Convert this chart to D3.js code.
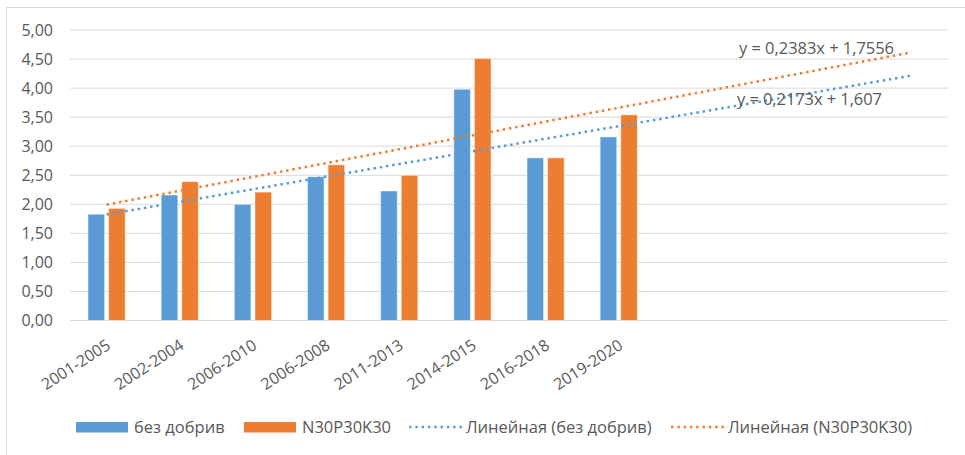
<!DOCTYPE html>
<html>
<head>
<meta charset="utf-8">
<script src="https://d3js.org/d3.v7.min.js"></script>
<style>
  body { margin: 0; background: white; }
  text { font-family: "Open Sans", sans-serif; fill: #595959; }
</style>
</head>
<body>
<div id="chart"></div>
<script>
  // categories (x axis) and the two series
  var periods = ["2001-2005", "2002-2004", "2006-2010", "2006-2008", "2011-2013", "2014-2015", "2016-2018", "2019-2020"];
  var noFert = [1.83, 2.16, 2.00, 2.475, 2.23, 3.98, 2.80, 3.16];
  var npk = [1.93, 2.39, 2.21, 2.68, 2.50, 4.51, 2.80, 3.54];
  var seriesNames = ["без добрив", "N30P30K30"];
  var trendNames = ["Линейная (без добрив)", "Линейная (N30P30K30)"];
  // trendline coefficients as shown on the chart
  var trendSlope = [0.2173, 0.2383];
  var trendIntercept = [1.607, 1.7556];
  var trendLabels = ["y = 0,2173x + 1,607", "y = 0,2383x + 1,7556"];
  var forecastPeriods = 4;
  var yTicks = [0, 0.5, 1, 1.5, 2, 2.5, 3, 3.5, 4, 4.5, 5];

  var colors = ["#5b9bd5", "#ed7d31"];

  var W = 965, H = 455;
  var svg = d3.select("#chart").append("svg")
    .attr("width", W).attr("height", H);

  // chart area border (only top/left visible)
  svg.append("rect")
    .attr("x", 6.5).attr("y", 7.5)
    .attr("width", W + 20).attr("height", H + 20)
    .attr("fill", "white")
    .attr("stroke", "#d9d9d9");

  var plot = {left: 70, right: 948, top: 30, bottom: 320.5};

  // slots for the data + forecast periods
  var nSlots = periods.length + forecastPeriods;
  var slotIdx = d3.range(nSlots);
  var x = d3.scaleBand()
    .domain(slotIdx)
    .range([plot.left, plot.right]);

  var y = d3.scaleLinear()
    .domain([0, 5])
    .range([plot.bottom, plot.top]);

  // gridlines
  svg.append("g").selectAll("line")
    .data(yTicks)
    .enter().append("line")
      .attr("x1", plot.left).attr("x2", plot.right)
      .attr("y1", function(d) { return y(d); })
      .attr("y2", function(d) { return y(d); })
      .attr("stroke", "#d9d9d9")
      .attr("stroke-width", 1);

  // y tick labels
  var fmt = function(d) { return d3.format(".2f")(d).replace(".", ","); };
  svg.append("g").selectAll("text")
    .data(yTicks)
    .enter().append("text")
      .attr("x", plot.left - 17)
      .attr("y", function(d) { return y(d); })
      .attr("dy", "0.35em")
      .attr("text-anchor", "end")
      .style("font-size", "16px")
      .text(fmt);

  // bars
  var barW = 16.6, gap = 4;
  var groups = [noFert, npk];
  groups.forEach(function(vals, s) {
    svg.append("g").selectAll("rect")
      .data(vals)
      .enter().append("rect")
        .attr("x", function(d, i) {
          var c = x(i) + x.bandwidth() / 2;
          return s === 0 ? c - gap / 2 - barW : c + gap / 2;
        })
        .attr("y", function(d) { return y(d); })
        .attr("width", barW)
        .attr("height", function(d) { return y(0) - y(d); })
        .attr("fill", colors[s])
        .attr("stroke", "white")
        .attr("stroke-opacity", 0.5)
        .attr("stroke-width", 1);
  });

  // trendlines (x = 1 .. n + forecast)
  groups.forEach(function(vals, s) {
    var xs = [1, periods.length + forecastPeriods];
    svg.append("line")
      .attr("x1", x(xs[0] - 1) + x.bandwidth() / 2)
      .attr("x2", x(xs[1] - 1) + x.bandwidth() / 2)
      .attr("y1", y(trendSlope[s] * xs[0] + trendIntercept[s]))
      .attr("y2", y(trendSlope[s] * xs[1] + trendIntercept[s]))
      .attr("stroke", colors[s])
      .attr("stroke-width", 2.5)
      .attr("stroke-dasharray", "2.5 3.8");
  });

  // trendline equations
  var eqPos = [{x: 737, y: 99}, {x: 739, y: 48}];
  trendLabels.forEach(function(t, s) {
    svg.append("text")
      .attr("x", eqPos[s].x)
      .attr("y", eqPos[s].y)
      .attr("dy", "0.35em")
      .attr("textLength", s === 0 ? 145 : 155)
      .style("font-size", "16.5px")
      .text(t);
  });

  // x axis labels, rotated
  svg.append("g").selectAll("text")
    .data(periods)
    .enter().append("text")
      .attr("transform", function(d, i) {
        var cx = x(i) + x.bandwidth() / 2 - 1;
        return "translate(" + cx + "," + (plot.bottom + 18) + ") rotate(-33)";
      })
      .attr("text-anchor", "end")
      .attr("dy", "0.7em")
      .style("font-size", "16px")
      .text(function(d) { return d; });

  // legend
  var leg = svg.append("g").attr("transform", "translate(0,427)");
  var legItems = [
    {type: "bar", color: colors[0], label: seriesNames[0], x: 76},
    {type: "bar", color: colors[1], label: seriesNames[1], x: 244},
    {type: "line", color: colors[0], label: trendNames[0], x: 409},
    {type: "line", color: colors[1], label: trendNames[1], x: 671}
  ];
  legItems.forEach(function(it) {
    if (it.type === "bar") {
      leg.append("rect")
        .attr("x", it.x).attr("y", -5)
        .attr("width", 52).attr("height", 10.5)
        .attr("fill", it.color);
    } else {
      leg.append("line")
        .attr("x1", it.x).attr("x2", it.x + 53)
        .attr("y1", 0).attr("y2", 0)
        .attr("stroke", it.color)
        .attr("stroke-width", 2.5)
        .attr("stroke-dasharray", "2.5 3.8");
    }
    leg.append("text")
      .attr("x", it.x + (it.type === "bar" ? 58 : 57))
      .attr("y", 0)
      .attr("dy", "0.35em")
      .style("font-size", "16.5px")
      .text(it.label);
  });
</script>
</body>
</html>
